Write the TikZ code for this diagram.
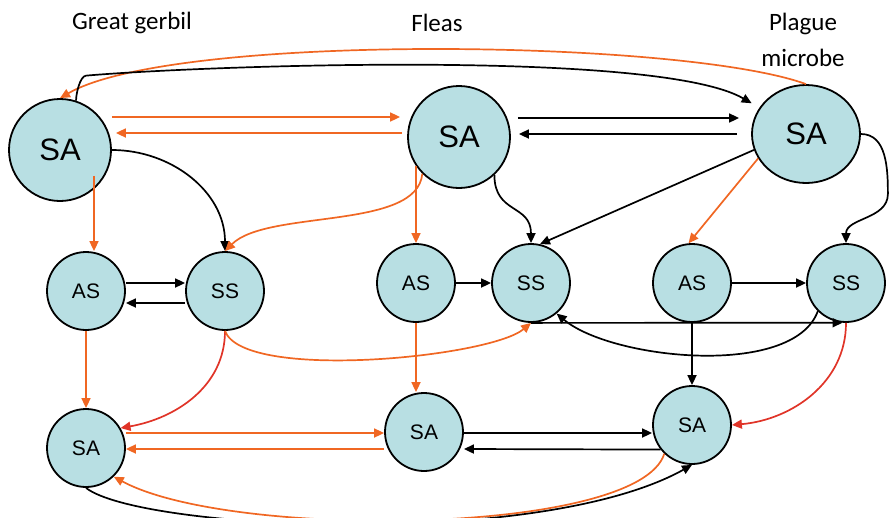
\documentclass[tikz,border=0pt]{standalone}
\usepackage{fontspec}
\setmainfont{Carlito}
\newfontfamily\arialfont{Liberation Sans}
\usepackage{tikz}
\usetikzlibrary{shapes,shapes.geometric,arrows.meta,calc,positioning}
\definecolor{cellblue}{RGB}{184,223,227}
\definecolor{orangearr}{RGB}{240,103,35}
\definecolor{redarr}{RGB}{224,52,40}

\begin{document}
\begin{tikzpicture}[%
>={Triangle[length=10pt,width=9pt]},
x=1pt,y=1pt,
on grid,
auto,
bigcell/.style={circle,draw,line width=1.8pt,fill=cellblue,minimum size=102pt,inner sep=0pt,font=\arialfont\fontsize{31}{31}\selectfont},
smallcell/.style={circle,draw,line width=1.8pt,fill=cellblue,minimum size=78pt,inner sep=0pt,font=\arialfont\fontsize{21}{21}\selectfont},
heading/.style={font=\fontsize{25}{36}\selectfont,align=center,inner sep=0pt},
ora/.style={orangearr,line width=1.7pt},
rd/.style={redarr,line width=1.7pt},
blk/.style={black,line width=1.7pt}
]
\useasboundingbox (0,0) rectangle (889,-517);

\node[heading] (tGerbil) at (132,-23) {Great gerbil};
\node[heading] (tFleas) at (437,-23) {Fleas};
\node[heading] (tPlague) at (803,-40) {Plague\\microbe};

\node[bigcell] (gSA) at (60,-150) {SA};
\node[bigcell] (fSA) at (459,-137) {SA};
\node[bigcell,ellipse,minimum width=108pt,minimum height=98pt] (pSA) at (806,-134) {SA};

\node[smallcell] (gAS) [below right=141pt and 26pt of gSA] {AS};
\node[smallcell] (gSS) [right=139pt of gAS] {SS};
\node[smallcell] (gSA2) [below=157pt of gAS] {SA};
\node[smallcell] (fAS) [below left=146pt and 43pt of fSA] {AS};
\node[smallcell] (fSS) [right=115pt of fAS] {SS};
\node[smallcell] (fSA2) [below right=149pt and 8pt of fAS] {SA};
\node[smallcell] (pAS) [right=276pt of fAS] {AS};
\node[smallcell] (pSS) [right=154pt of pAS] {SS};
\node[smallcell] (pSA2) [below=142pt of pAS] {SA};

% top row
\path[->,ora] ([yshift=33pt]gSA.east) edge[shorten >=7pt] ([yshift=20pt]fSA.west);
\path[->,ora] ([yshift=4pt]fSA.west) edge[shorten <=5pt,shorten >=4pt] ([yshift=17pt]gSA.east);
\path[->,blk] ([yshift=19pt]fSA.east) edge[shorten <=7pt,shorten >=12pt] ([yshift=16pt]pSA.west);
\path[->,blk] (pSA.west) edge[shorten <=14pt,shorten >=8pt] ([yshift=3pt]fSA.east);
\draw[->,ora] (pSA.north) to[out=160,in=30,looseness=0.45] (gSA.north);
\draw[->,blk] (gSA.72) to[out=90,in=185,looseness=0.6] ++(10,25)
   to[out=5,in=150,looseness=0.42] ([shift={(-8,4)}]pSA.150);

% down from the top row
\path[->,blk] (gSA.east) edge[out=0,in=90] (gSS.north);
\path[->,ora] ([xshift=8pt]gAS.north |- gSA.-30) edge ([xshift=8pt]gAS.north);
\draw[->,ora] (fSA.-135) .. controls +(-5,-57) and +(42,42) .. (gSS.north);
\path[->,ora] (fSA.-146) edge (fAS.north);
\path[->,blk] (fSA.-47) edge[out=-90,in=90,looseness=1.3] (fSS.north);
\path[->,blk] (pSA.197) edge (fSS.77);
\path[->,ora] (pSA.207) edge (pAS.95);
\draw[->,blk] (pSA.east) to[out=0,in=90] ++(27,-60) to[out=-90,in=90] (pSS.north);

% middle row
\path[->,blk] ([yshift=8pt]gAS.east) edge ([yshift=8pt]gSS.west);
\path[->,blk] ([yshift=-12pt]gSS.west) edge ([yshift=-12pt]gAS.east);
\path[->,blk] (fAS.east) edge (fSS.west);
\path[->,blk] (pAS.east) edge (pSS.west);
\path[->,blk] (fSS.south) edge (pSS.-95);
\path[->,blk] (pSS.-135) edge[out=-110,in=-40,looseness=0.7] (fSS.-50);

% down to the bottom row
\path[->,ora] (gAS.south) edge (gSA2.north);
\path[->,rd] (gSS.south) edge[out=-90,in=10] (gSA2.30);
\path[->,ora] (gSS.south) edge[out=-70,in=-140,looseness=0.45] (fSS.south);
\path[->,ora] (fAS.south) edge (fAS.south |- fSA2.north);
\path[->,blk] (pAS.south) edge (pSA2.north);
\path[->,rd] (pSS.south) edge[out=-90,in=5] (pSA2.east);

% bottom row
\path[->,ora] ([yshift=15pt]gSA2.east) edge ([yshift=-1pt]fSA2.west);
\path[->,ora] ([yshift=-17pt]fSA2.west) edge ([yshift=-1pt]gSA2.east);
\path[->,blk] ([yshift=-1pt]fSA2.east) edge ([yshift=-8pt]pSA2.west);
\path[->,blk] (pSA2.-142) edge ([yshift=-17pt]fSA2.east);
\draw[->,ora] (pSA2.-134) .. controls +(-25,-82) and +(116,-63) .. (gSA2.-46);
\draw[->,blk] (gSA2.south) .. controls +(54,-42) and +(-152,-85) .. (pSA2.south);
\end{tikzpicture}
\end{document}
